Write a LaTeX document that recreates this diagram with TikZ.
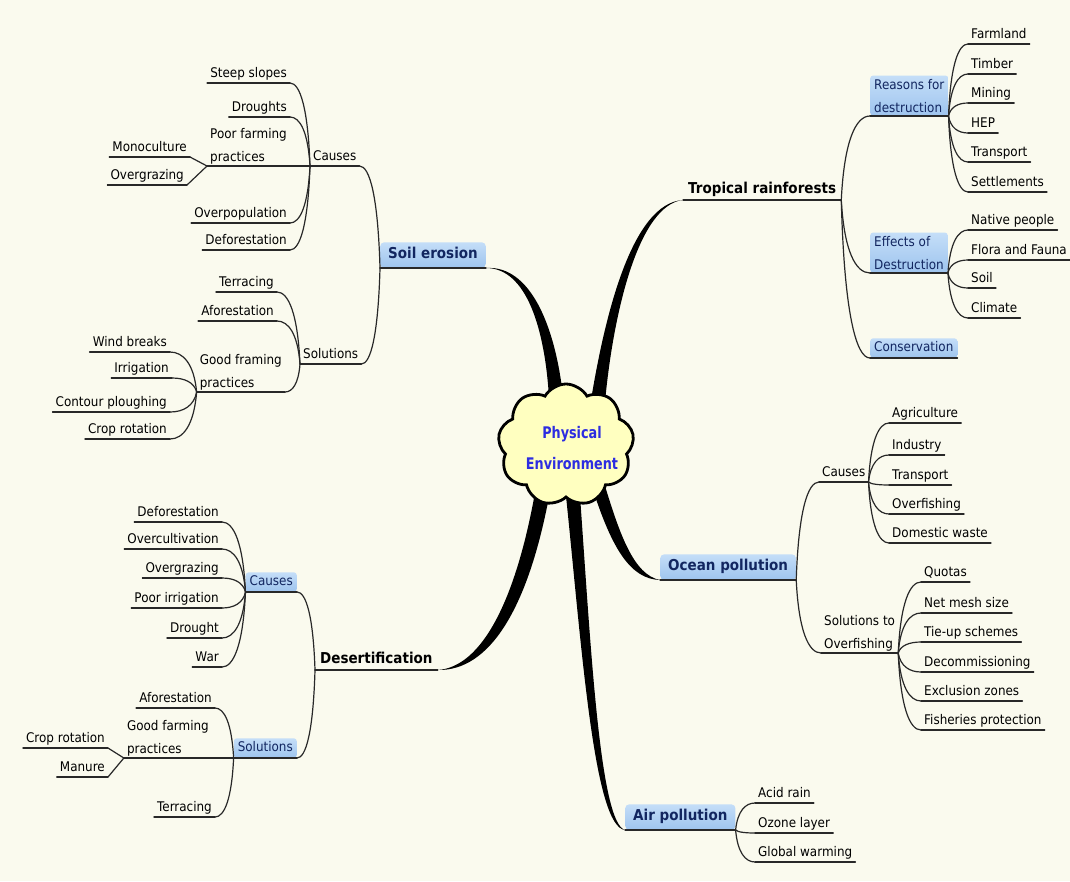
\documentclass[tikz,border=0pt]{standalone}
\usepackage{fontspec}
\setmainfont{DejaVu Sans}[FakeStretch=0.9]
\newfontfamily\cloudfont{DejaVu Sans}[FakeStretch=0.8]
\usetikzlibrary{shapes.symbols,calc}
\definecolor{bgc}{RGB}{250,250,238}
\definecolor{linec}{RGB}{40,40,40}
\definecolor{boxtop}{RGB}{196,222,248}
\definecolor{boxbot}{RGB}{158,196,238}
\definecolor{navy}{RGB}{18,38,96}
\definecolor{cloudfill}{RGB}{255,255,192}
\definecolor{cloudtext}{RGB}{45,45,225}
\pgfdeclarelayer{bglayer}
\pgfdeclarelayer{wedgelayer}
\pgfsetlayers{bglayer,wedgelayer,main}
\newcommand\lf{\fontsize{13.3pt}{23pt}\selectfont}
\newcommand\topicf{\fontsize{15pt}{18pt}\selectfont\bfseries}
\tikzset{
 uline/.style={line width=1.2pt, draw=linec, line cap=round},
 mm/.style={to path={let \p1=(\tikztostart), \p2=(\tikztotarget) in .. controls (0.9*\x1+0.1*\x2, 0.3*\y1+0.7*\y2) and (0.5*\x1+0.5*\x2, \y2) .. (\tikztotarget) \tikztonodes}},
 conn/.style={uline, mm},
 ulafter/.style={append after command={(\tikzlastnode.south west) edge[uline] (\tikzlastnode.south east)}},
 leaf/.style={font=\lf, inner xsep=3pt, inner ysep=1.5pt, text height=9.5pt, text depth=3.5pt, ulafter},
 leafm/.style={font=\lf, inner xsep=3pt, inner ysep=1.5pt, align=left, ulafter},
 bigbox/.style={rounded corners=4pt, top color=boxtop, bottom color=boxbot, text=navy, font=\topicf, inner xsep=8pt, inner ysep=6pt, text height=10.5pt, text depth=3pt, ulafter},
 smallbox/.style={rounded corners=3pt, top color=boxtop, bottom color=boxbot, text=navy, font=\lf, inner xsep=4pt, inner ysep=3.5pt, text height=9.5pt, text depth=3pt, ulafter},
 smallboxm/.style={rounded corners=3pt, top color=boxtop, bottom color=boxbot, text=navy, font=\lf, inner xsep=4pt, inner ysep=3.5pt, align=left, ulafter},
 toptext/.style={font=\topicf, inner xsep=5pt, inner ysep=2pt, text height=11pt, text depth=4pt, ulafter},
 wedge/.style={fill=black},
}
\begin{document}
\begin{tikzpicture}[x=1pt,y=-1pt]
\useasboundingbox (0,0) rectangle (1070,881);
\begin{pgfonlayer}{bglayer}
\fill[bgc] (0,0) rectangle (1070,881);
\end{pgfonlayer}

% centre
\node[cloud, cloud puffs=9, cloud puff arc=120, draw=black, line width=2.8pt, fill=cloudfill, minimum width=136pt, minimum height=122pt, inner sep=0pt] (env) at (566,445) {};
\node[text=cloudtext, align=center, font={\cloudfont\bfseries\fontsize{16pt}{31pt}\selectfont}] (envtext) at (572,448) {Physical\\Environment};

% Soil erosion
\node[bigbox, anchor=south west] (soil) at (380,268) {Soil erosion};
\node[leaf, anchor=south west] (scause) at (310,166) {Causes};
\node[leaf, anchor=south east] (steep) at (290,83) {Steep slopes};
\node[leaf, anchor=south east] (drts) at (290,117) {Droughts};
\node[leafm, anchor=south east] (poor) at (290,166) {Poor farming\\practices};
\node[leaf, anchor=south east] (mono) at (190,157) {Monoculture};
\node[leaf, anchor=south east] (ovgz) at (187,185) {Overgrazing};
\node[leaf, anchor=south east] (ovpop) at (290,223) {Overpopulation};
\node[leaf, anchor=south east] (sdefor) at (290,250) {Deforestation};
\node[leaf, anchor=south west] (ssol) at (300,364) {Solutions};
\node[leaf, anchor=south east] (sterr) at (277,292) {Terracing};
\node[leaf, anchor=south east] (safor) at (277,321) {Aforestation};
\node[leafm, anchor=south east] (sgood) at (285,392) {Good framing\\practices};
\node[leaf, anchor=south east] (wind) at (170,352) {Wind breaks};
\node[leaf, anchor=south east] (irrig) at (172,378) {Irrigation};
\node[leaf, anchor=south east] (contour) at (170,412) {Contour ploughing};
\node[leaf, anchor=south east] (scrop) at (170,439) {Crop rotation};

\draw[conn] (soil.south west) to (scause.south east);
\draw[conn] (soil.south west) to (ssol.south east);
\foreach \nd in {steep,drts,poor,ovpop,sdefor} \draw[conn] (scause.south west) to (\nd.south east);
\draw[uline] (poor.south west) -- (mono.south east);
\draw[uline] (poor.south west) -- (ovgz.south east);
\foreach \nd in {sterr,safor,sgood} \draw[conn] (ssol.south west) to (\nd.south east);
\foreach \nd in {wind,irrig,contour,scrop} \draw[conn] (sgood.south west) to (\nd.south east);

% Tropical rainforests
\node[toptext, anchor=south west] (trop) at (683,200) {Tropical rainforests};
\node[smallboxm, anchor=south west] (reasons) at (870,116) {Reasons for\\destruction};
\node[leaf, anchor=south west] (farm) at (968,44) {Farmland};
\node[leaf, anchor=south west] (timber) at (968,74) {Timber};
\node[leaf, anchor=south west] (mining) at (968,103) {Mining};
\node[leaf, anchor=south west] (hep) at (968,133) {HEP};
\node[leaf, anchor=south west] (ttrans) at (968,162) {Transport};
\node[leaf, anchor=south west] (settle) at (968,192) {Settlements};
\node[smallboxm, anchor=south west] (effects) at (870,273) {Effects of\\Destruction};
\node[leaf, anchor=south west] (native) at (968,230) {Native people};
\node[leaf, anchor=south west] (flora) at (968,260) {Flora and Fauna};
\node[leaf, anchor=south west] (tsoil) at (968,288) {Soil};
\node[leaf, anchor=south west] (climate) at (968,318) {Climate};
\node[smallbox, anchor=south west] (conserv) at (870,358) {Conservation};

\foreach \nd in {reasons,effects,conserv} \draw[conn] (trop.south east) to (\nd.south west);
\foreach \nd in {farm,timber,mining,hep,ttrans,settle} \draw[conn] (reasons.south east) to (\nd.south west);
\foreach \nd in {native,flora,tsoil,climate} \draw[conn] (effects.south east) to (\nd.south west);

% Ocean pollution
\node[bigbox, anchor=south west] (ocean) at (660,580) {Ocean pollution};
\node[leaf, anchor=south west] (ocause) at (819,482) {Causes};
\node[leaf, anchor=south west] (agri) at (889,423) {Agriculture};
\node[leaf, anchor=south west] (indus) at (889,455) {Industry};
\node[leaf, anchor=south west] (otrans) at (889,485) {Transport};
\node[leaf, anchor=south west] (overf) at (889,514) {Overfishing};
\node[leaf, anchor=south west] (domest) at (889,543) {Domestic waste};
\node[leafm, anchor=south west] (osol) at (821,653) {Solutions to\\Overfishing};
\node[leaf, anchor=south west] (quotas) at (921,582) {Quotas};
\node[leaf, anchor=south west] (netm) at (921,613) {Net mesh size};
\node[leaf, anchor=south west] (tieup) at (921,642) {Tie-up schemes};
\node[leaf, anchor=south west] (decom) at (921,672) {Decommissioning};
\node[leaf, anchor=south west] (exclz) at (921,701) {Exclusion zones};
\node[leaf, anchor=south west] (fishp) at (921,730) {Fisheries protection};

\draw[conn] (ocean.south east) to (ocause.south west);
\draw[conn] (ocean.south east) to (osol.south west);
\foreach \nd in {agri,indus,otrans,overf,domest} \draw[conn] (ocause.south east) to (\nd.south west);
\foreach \nd in {quotas,netm,tieup,decom,exclz,fishp} \draw[conn] (osol.south east) to (\nd.south west);

% Air pollution
\node[bigbox, anchor=south west] (air) at (625,830) {Air pollution};
\node[leaf, anchor=south west] (acid) at (755,803) {Acid rain};
\node[leaf, anchor=south west] (ozone) at (755,833) {Ozone layer};
\node[leaf, anchor=south west] (gwarm) at (755,862) {Global warming};
\foreach \nd in {acid,ozone,gwarm} \draw[conn] (air.south east) to (\nd.south west);

% Desertification
\node[toptext, anchor=south west] (desert) at (315,670) {Desertification};
\node[smallbox, anchor=south east] (dcause) at (297,592) {Causes};
\node[leaf, anchor=south east] (ddefor) at (222,522) {Deforestation};
\node[leaf, anchor=south east] (overcult) at (222,549) {Overcultivation};
\node[leaf, anchor=south east] (dovgz) at (222,578) {Overgrazing};
\node[leaf, anchor=south east] (poorirr) at (222,608) {Poor irrigation};
\node[leaf, anchor=south east] (drought) at (222,638) {Drought};
\node[leaf, anchor=south east] (war) at (222,667) {War};
\node[smallbox, anchor=south east] (dsol) at (297,758) {Solutions};
\node[leaf, anchor=south east] (dafor) at (215,708) {Aforestation};
\node[leafm, anchor=south east] (dgood) at (212,758) {Good farming\\practices};
\node[leaf, anchor=south east] (dcrop) at (108,748) {Crop rotation};
\node[leaf, anchor=south east] (manure) at (108,777) {Manure};
\node[leaf, anchor=south east] (dterr) at (215,817) {Terracing};

\draw[conn] (desert.south west) to (dcause.south east);
\draw[conn] (desert.south west) to (dsol.south east);
\foreach \nd in {ddefor,overcult,dovgz,poorirr,drought,war} \draw[conn] (dcause.south west) to (\nd.south east);
\foreach \nd in {dafor,dgood,dterr} \draw[conn] (dsol.south west) to (\nd.south east);
\draw[uline] (dgood.south west) -- (dcrop.south east);
\draw[uline] (dgood.south west) -- (manure.south east);

% tapered main branches
\begin{pgfonlayer}{wedgelayer}
\fill[wedge] (549,398) .. controls (545,330) and (527,268) .. (soil.south east) .. controls (530,265) and (555,325) .. (563,396) -- cycle;
\fill[wedge] (591,400) .. controls (605,315) and (632,203) .. (trop.south west) .. controls (638,205) and (613,315) .. (605,402) -- cycle;
\fill[wedge] (593,490) .. controls (612,548) and (630,579) .. (ocean.south west) .. controls (634,575) and (620,535) .. (605,486) -- cycle;
\fill[wedge] (566,496) .. controls (582,650) and (594,827) .. (air.south west) .. controls (600,823) and (591,650) .. (580,496) -- cycle;
\fill[wedge] (534,498) .. controls (515,600) and (482,667) .. (desert.south east) .. controls (490,671) and (527,608) .. (548,502) -- cycle;
\end{pgfonlayer}
\end{tikzpicture}
\end{document}
